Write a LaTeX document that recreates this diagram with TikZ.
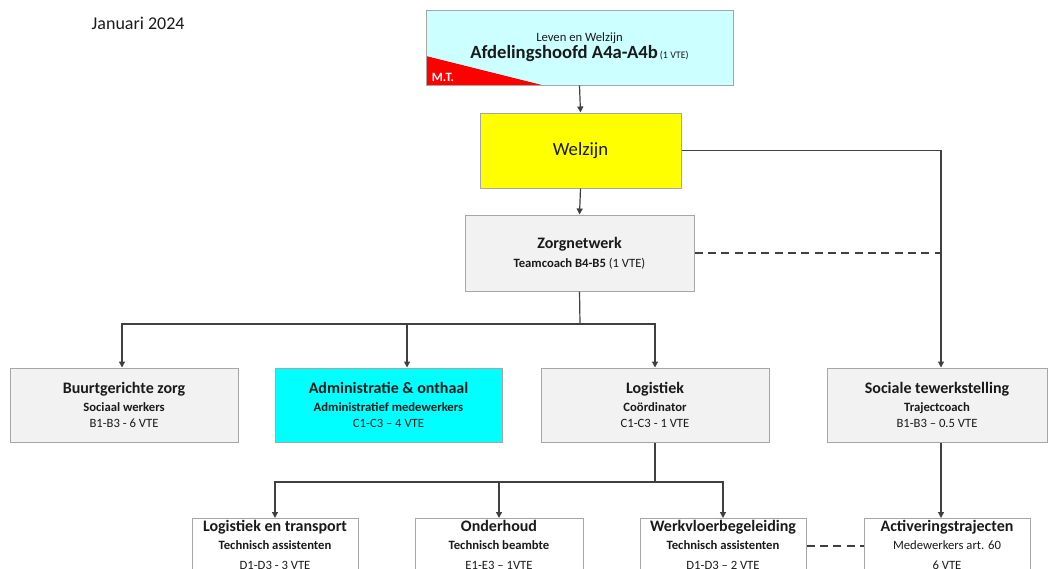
\documentclass[tikz,border=0pt]{standalone}
\usepackage{fontspec}
\setmainfont{Carlito}
\usetikzlibrary{arrows.meta}
\definecolor{lineC}{HTML}{404040}
\definecolor{borderC}{HTML}{A6A6A6}
\definecolor{greyF}{HTML}{F2F2F2}
\definecolor{topC}{HTML}{CCFFFF}
\definecolor{yelC}{HTML}{FFFF00}
\definecolor{cyaC}{HTML}{00FFFF}
\definecolor{redC}{HTML}{FF0000}
\definecolor{txtC}{HTML}{1A1A1A}
\newcommand\OrgT{\fontsize{12}{14}\selectfont\bfseries}
\begin{document}
\begin{tikzpicture}[x=0.75pt,y=-0.75pt,
  box/.style={draw=borderC, line width=0.75pt, rectangle, inner sep=0pt, align=center, text=txtC, font=\fontsize{9.5}{12}\selectfont},
  rowbox/.style={box, fill=greyF, minimum width=171pt, minimum height=55.5pt},
  botbox/.style={box, fill=white, minimum width=124.5pt, anchor=north, inner ysep=1.5pt},
  conn/.style={draw=lineC, line width=0.9pt, -{Triangle[length=4.5pt,width=4.5pt]}},
  plainline/.style={draw=lineC, line width=0.9pt},
  dashline/.style={draw=lineC, line width=0.9pt, dash pattern=on 6pt off 4pt}]
\useasboundingbox (0,0) rectangle (1048,568);
\clip (0,0) rectangle (1048,568);

\node[anchor=west, font=\fontsize{13.5}{16}\selectfont, text=txtC] (date) at (87,23) {Januari 2024};

\node[box, fill=topC, minimum width=230.25pt, minimum height=56.25pt,
  path picture={\fill[redC] ([yshift=21.75pt]path picture bounding box.south west) -- (path picture bounding box.south west) -- ([xshift=87pt]path picture bounding box.south west) -- cycle;}]
  (top) at (579.5,47.5) {Leven en Welzijn\\[1pt]{\fontsize{14}{16}\selectfont\bfseries Afdelingshoofd A4a-A4b}\,{\fontsize{7.5}{8}\selectfont (1 VTE)}};
\node[text=white, font=\fontsize{9.5}{10}\selectfont\bfseries] (mt) at (443,77) {M.T.};

\node[box, fill=yelC, minimum width=150.75pt, minimum height=56.25pt, font=\fontsize{14}{16}\selectfont] (welz) at (580.5,150.5) {Welzijn};

\node[box, fill=greyF, minimum width=171.75pt, minimum height=57pt] (zorg) at (579.5,253)
  {{\OrgT Zorgnetwerk}\\[2pt]{\bfseries Teamcoach B4-B5} (1 VTE)};

\node[rowbox] (buurt) at (124,405) {{\OrgT Buurtgerichte zorg}\\[2pt]{\bfseries Sociaal werkers}\\B1-B3 - 6 VTE};
\node[rowbox, fill=cyaC, minimum width=170.25pt] (admin) at (388.5,405) {{\OrgT Administratie \& onthaal}\\[2pt]{\bfseries Administratief medewerkers}\\C1-C3 – 4 VTE};
\node[rowbox] (log) at (655,405) {{\OrgT Logistiek}\\[2pt]{\bfseries Coördinator}\\C1-C3 - 1 VTE};
\node[rowbox, minimum width=165pt] (soc) at (937,405) {{\OrgT Sociale tewerkstelling}\\[2pt]{\bfseries Trajectcoach}\\B1-B3 – 0.5 VTE};

\node[botbox] (lt) at (275,518) {{\OrgT Logistiek en transport}\\[1pt]{\bfseries Technisch assistenten}\\[3pt]D1-D3 - 3 VTE\\[4pt]\strut};
\node[botbox, minimum width=126pt] (ond) at (499,518) {{\OrgT Onderhoud}\\[1pt]{\bfseries Technisch beambte}\\[3pt]E1-E3 – 1VTE\\[4pt]\strut};
\node[botbox] (werk) at (723,518) {{\OrgT Werkvloerbegeleiding}\\[1pt]{\bfseries Technisch assistenten}\\[3pt]D1-D3 – 2 VTE\\[4pt]\strut};
\node[botbox] (act) at (947,518) {{\OrgT Activeringstrajecten}\\[1pt]Medewerkers art. 60\\[3pt]6 VTE\\[4pt]\strut};

\coordinate (vline) at ([xshift=3pt]soc.north);
\coordinate (br1) at (580,324);
\coordinate (br2) at (655,482);

\draw[conn] (top.south) -- (welz.north);
\draw[conn] (welz.south) -- (zorg.north);
\draw[conn] (welz.east) -| (vline);
\draw[dashline] (zorg.east) -- (vline |- zorg.east);

\draw[plainline] (zorg.south) -- (br1);
\draw[conn] (br1) -| ([xshift=-1.5pt]buurt.north);
\draw[conn] (br1) -| ([xshift=13.9pt]admin.north);
\draw[conn] (br1) -| (log.north);

\draw[plainline] (log.south) -- (br2);
\draw[conn] (br2) -| (lt.north);
\draw[conn] (br2) -| (ond.north);
\draw[conn] (br2) -| (werk.north);

\draw[conn] (vline |- soc.south) -- (vline |- act.north);
\draw[dashline] ([yshift=-21pt]werk.north east) -- ([yshift=-21pt]act.north west);
\end{tikzpicture}
\end{document}
